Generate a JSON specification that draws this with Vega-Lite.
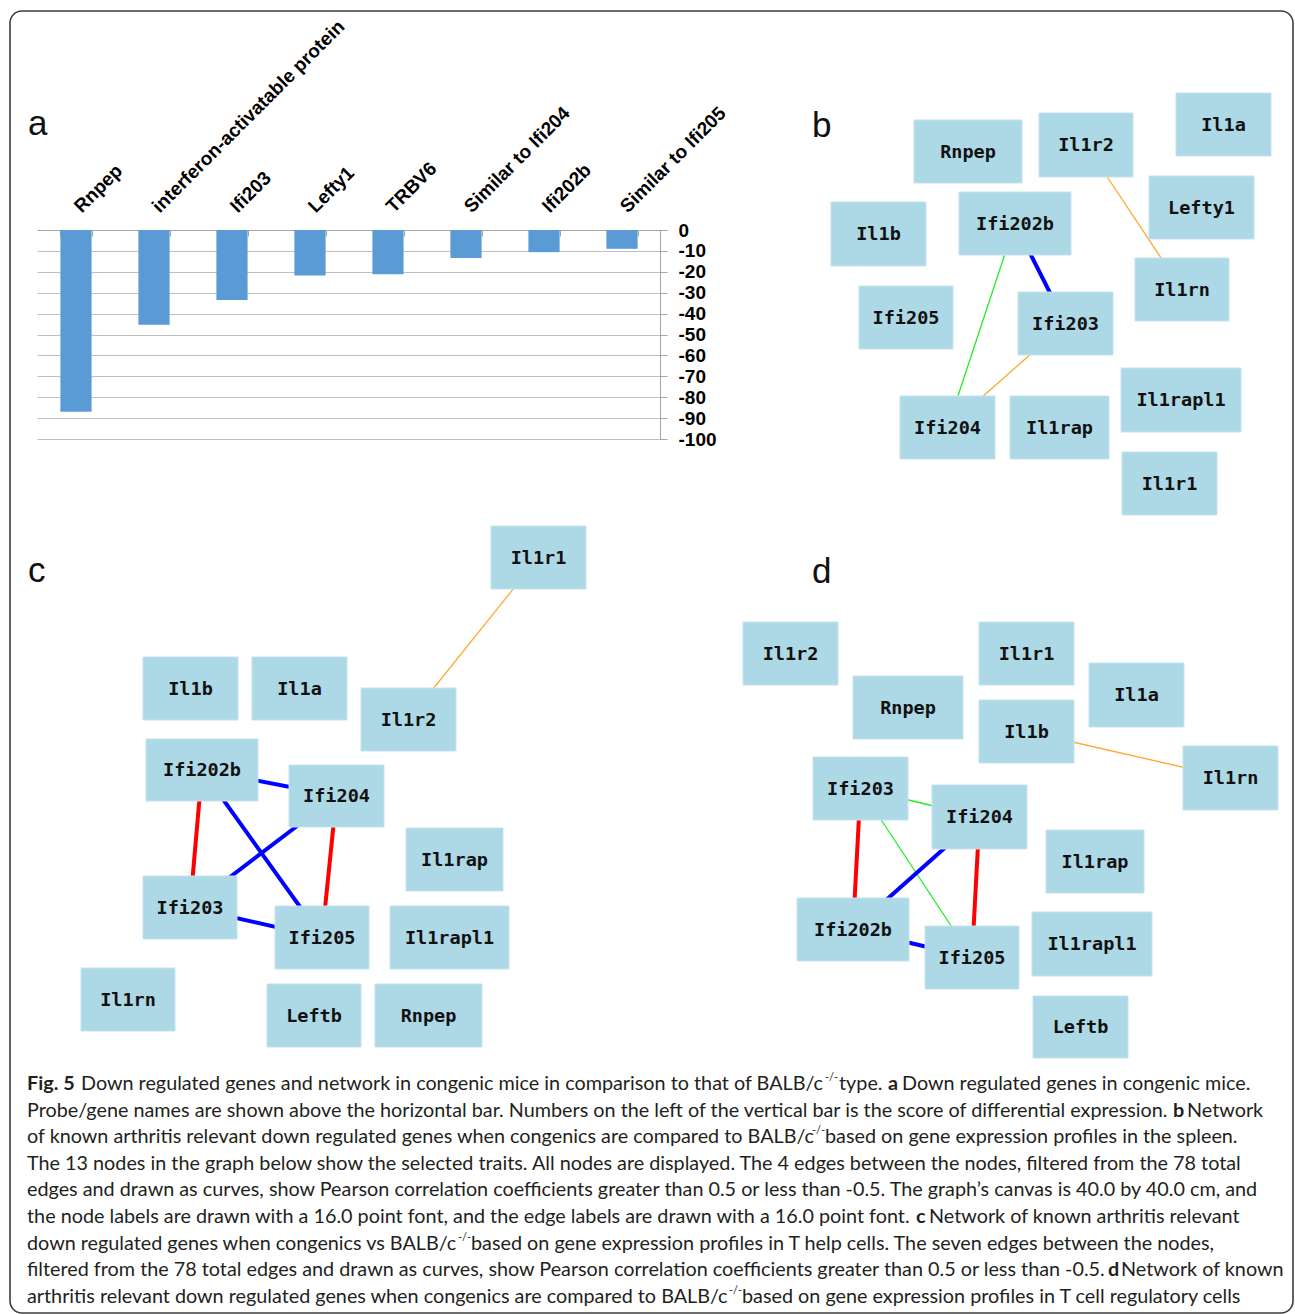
{
  "$schema": "https://vega.github.io/schema/vega-lite/v6.json",
  "width": 1295,
  "height": 1314,
  "autosize": {"type": "none"},
  "padding": 0,
  "background": "white",
  "config": {"view": {"stroke": null}},
  "datasets": {
    "bars": [
      {"gene": "Rnpep", "score": -87},
      {"gene": "interferon-activatable protein", "score": -45.3},
      {"gene": "Ifi203", "score": -33.5},
      {"gene": "Lefty1", "score": -21.8},
      {"gene": "TRBV6", "score": -21.2},
      {"gene": "Similar to Ifi204", "score": -13.4},
      {"gene": "Ifi202b", "score": -10.6},
      {"gene": "Similar to Ifi205", "score": -9}
    ],
    "nodes": [
      {"id": "b.Rnpep", "gene": "Rnpep", "x0": 914, "x1": 1022, "y0": 120, "y1": 183},
      {"id": "b.Il1r2", "gene": "Il1r2", "x0": 1039, "x1": 1133, "y0": 113, "y1": 177},
      {"id": "b.Il1a", "gene": "Il1a", "x0": 1176, "x1": 1271, "y0": 93, "y1": 156},
      {"id": "b.Il1b", "gene": "Il1b", "x0": 831, "x1": 926, "y0": 202, "y1": 266},
      {"id": "b.Ifi202b", "gene": "Ifi202b", "x0": 959, "x1": 1071, "y0": 192, "y1": 255},
      {"id": "b.Lefty1", "gene": "Lefty1", "x0": 1149, "x1": 1254, "y0": 176, "y1": 239},
      {"id": "b.Il1rn", "gene": "Il1rn", "x0": 1135, "x1": 1229, "y0": 258, "y1": 321},
      {"id": "b.Ifi205", "gene": "Ifi205", "x0": 859, "x1": 953, "y0": 286, "y1": 349},
      {"id": "b.Ifi203", "gene": "Ifi203", "x0": 1018, "x1": 1113, "y0": 292, "y1": 355},
      {"id": "b.Ifi204", "gene": "Ifi204", "x0": 900, "x1": 995, "y0": 396, "y1": 459},
      {"id": "b.Il1rap", "gene": "Il1rap", "x0": 1010, "x1": 1109, "y0": 396, "y1": 459},
      {"id": "b.Il1rapl1", "gene": "Il1rapl1", "x0": 1121, "x1": 1241, "y0": 368, "y1": 432},
      {"id": "b.Il1r1", "gene": "Il1r1", "x0": 1122, "x1": 1217, "y0": 452, "y1": 515},
      {"id": "c.Il1r1", "gene": "Il1r1", "x0": 491, "x1": 586, "y0": 526, "y1": 589},
      {"id": "c.Il1b", "gene": "Il1b", "x0": 143, "x1": 238, "y0": 657, "y1": 720},
      {"id": "c.Il1a", "gene": "Il1a", "x0": 252, "x1": 347, "y0": 657, "y1": 720},
      {"id": "c.Il1r2", "gene": "Il1r2", "x0": 361, "x1": 456, "y0": 688, "y1": 751},
      {"id": "c.Ifi202b", "gene": "Ifi202b", "x0": 146, "x1": 258, "y0": 739, "y1": 801},
      {"id": "c.Ifi204", "gene": "Ifi204", "x0": 289, "x1": 384, "y0": 765, "y1": 827},
      {"id": "c.Il1rap", "gene": "Il1rap", "x0": 406, "x1": 503, "y0": 828, "y1": 891},
      {"id": "c.Ifi203", "gene": "Ifi203", "x0": 143, "x1": 237, "y0": 876, "y1": 939},
      {"id": "c.Ifi205", "gene": "Ifi205", "x0": 275, "x1": 369, "y0": 906, "y1": 969},
      {"id": "c.Il1rapl1", "gene": "Il1rapl1", "x0": 390, "x1": 509, "y0": 906, "y1": 969},
      {"id": "c.Il1rn", "gene": "Il1rn", "x0": 81, "x1": 175, "y0": 968, "y1": 1031},
      {"id": "c.Leftb", "gene": "Leftb", "x0": 267, "x1": 361, "y0": 984, "y1": 1047},
      {"id": "c.Rnpep", "gene": "Rnpep", "x0": 375, "x1": 482, "y0": 984, "y1": 1047},
      {"id": "d.Il1r2", "gene": "Il1r2", "x0": 743, "x1": 838, "y0": 622, "y1": 685},
      {"id": "d.Il1r1", "gene": "Il1r1", "x0": 979, "x1": 1074, "y0": 622, "y1": 685},
      {"id": "d.Il1a", "gene": "Il1a", "x0": 1089, "x1": 1184, "y0": 663, "y1": 727},
      {"id": "d.Rnpep", "gene": "Rnpep", "x0": 853, "x1": 963, "y0": 676, "y1": 739},
      {"id": "d.Il1b", "gene": "Il1b", "x0": 979, "x1": 1074, "y0": 700, "y1": 763},
      {"id": "d.Il1rn", "gene": "Il1rn", "x0": 1183, "x1": 1278, "y0": 746, "y1": 810},
      {"id": "d.Ifi203", "gene": "Ifi203", "x0": 813, "x1": 908, "y0": 757, "y1": 820},
      {"id": "d.Ifi204", "gene": "Ifi204", "x0": 932, "x1": 1027, "y0": 785, "y1": 849},
      {"id": "d.Il1rap", "gene": "Il1rap", "x0": 1046, "x1": 1144, "y0": 830, "y1": 893},
      {"id": "d.Ifi202b", "gene": "Ifi202b", "x0": 797, "x1": 909, "y0": 898, "y1": 961},
      {"id": "d.Ifi205", "gene": "Ifi205", "x0": 925, "x1": 1019, "y0": 926, "y1": 989},
      {"id": "d.Il1rapl1", "gene": "Il1rapl1", "x0": 1032, "x1": 1152, "y0": 912, "y1": 976},
      {"id": "d.Leftb", "gene": "Leftb", "x0": 1033, "x1": 1128, "y0": 996, "y1": 1058}
    ],
    "edges": [
      {"source": "b.Ifi202b", "target": "b.Ifi203", "corr": "strong negative"},
      {"source": "b.Ifi202b", "target": "b.Ifi204", "corr": "negative"},
      {"source": "b.Il1r2", "target": "b.Il1rn", "corr": "positive"},
      {"source": "b.Ifi203", "target": "b.Ifi204", "corr": "positive"},
      {"source": "c.Il1r1", "target": "c.Il1r2", "corr": "positive"},
      {"source": "c.Ifi202b", "target": "c.Ifi204", "corr": "strong negative"},
      {"source": "c.Ifi202b", "target": "c.Ifi203", "corr": "strong positive"},
      {"source": "c.Ifi202b", "target": "c.Ifi205", "corr": "strong negative"},
      {"source": "c.Ifi204", "target": "c.Ifi203", "corr": "strong negative"},
      {"source": "c.Ifi204", "target": "c.Ifi205", "corr": "strong positive"},
      {"source": "c.Ifi203", "target": "c.Ifi205", "corr": "strong negative"},
      {"source": "d.Il1b", "target": "d.Il1rn", "corr": "positive"},
      {"source": "d.Ifi203", "target": "d.Ifi204", "corr": "negative"},
      {"source": "d.Ifi203", "target": "d.Ifi205", "corr": "negative"},
      {"source": "d.Ifi203", "target": "d.Ifi202b", "corr": "strong positive"},
      {"source": "d.Ifi204", "target": "d.Ifi202b", "corr": "strong negative"},
      {"source": "d.Ifi204", "target": "d.Ifi205", "corr": "strong positive"},
      {"source": "d.Ifi202b", "target": "d.Ifi205", "corr": "strong negative"}
    ],
    "letters": [
      {"letter": "a", "x": 28, "y": 135},
      {"letter": "b", "x": 812, "y": 137},
      {"letter": "c", "x": 28, "y": 582},
      {"letter": "d", "x": 812, "y": 583}
    ],
    "captionRegular": [
      {"x": 81, "y": 1090, "text": "Down regulated genes and network in congenic mice in comparison to that of BALB/c"},
      {"x": 839, "y": 1090, "text": "type."},
      {"x": 902, "y": 1090, "text": "Down regulated genes in congenic mice."},
      {"x": 27, "y": 1116.6, "text": "Probe/gene names are shown above the horizontal bar. Numbers on the left of the vertical bar is the score of differential expression."},
      {"x": 1187, "y": 1116.6, "text": "Network"},
      {"x": 27, "y": 1143.2, "text": "of known arthritis relevant down regulated genes when congenics are compared to BALB/c"},
      {"x": 825, "y": 1143.2, "text": "based on gene expression profiles in the spleen."},
      {"x": 27, "y": 1169.8, "text": "The 13 nodes in the graph below show the selected traits. All nodes are displayed. The 4 edges between the nodes, filtered from the 78 total"},
      {"x": 27, "y": 1196.4, "text": "edges and drawn as curves, show Pearson correlation coefficients greater than 0.5 or less than -0.5. The graph’s canvas is 40.0 by 40.0 cm, and"},
      {"x": 27, "y": 1223, "text": "the node labels are drawn with a 16.0 point font, and the edge labels are drawn with a 16.0 point font."},
      {"x": 929, "y": 1223, "text": "Network of known arthritis relevant"},
      {"x": 27, "y": 1249.6, "text": "down regulated genes when congenics vs BALB/c"},
      {"x": 471, "y": 1249.6, "text": "based on gene expression profiles in T help cells. The seven edges between the nodes,"},
      {"x": 27, "y": 1276.2, "text": "filtered from the 78 total edges and drawn as curves, show Pearson correlation coefficients greater than 0.5 or less than -0.5."},
      {"x": 1121, "y": 1276.2, "text": "Network of known"},
      {"x": 27, "y": 1302.8, "text": "arthritis relevant down regulated genes when congenics are compared to BALB/c"},
      {"x": 742, "y": 1302.8, "text": "based on gene expression profiles in T cell regulatory cells"}
    ],
    "captionBold": [
      {"x": 27, "y": 1090, "text": "Fig. 5"},
      {"x": 888, "y": 1090, "text": "a"},
      {"x": 1173, "y": 1116.6, "text": "b"},
      {"x": 916, "y": 1223, "text": "c"},
      {"x": 1108, "y": 1276.2, "text": "d"}
    ],
    "captionSup": [
      {"x": 825, "y": 1090, "text": "-/-"},
      {"x": 812, "y": 1143.2, "text": "-/-"},
      {"x": 458, "y": 1249.6, "text": "-/-"},
      {"x": 729, "y": 1302.8, "text": "-/-"}
    ]
  },
  "resolve": {
    "scale": {"x": "independent", "y": "independent"},
    "axis": {"x": "independent", "y": "independent"}
  },
  "layer": [
    {
      "layer": [
        {
          "data": {"values": [{}]},
          "mark": {"type": "rect", "fill": null, "stroke": "#3c3c3c", "strokeWidth": 1.6, "cornerRadius": 12},
          "encoding": {
            "x": {"datum": 10, "type": "quantitative", "scale": {"domain": [0, 1295], "nice": false, "zero": false}, "axis": null},
            "x2": {"datum": 1293},
            "y": {"datum": 11, "type": "quantitative", "scale": {"domain": [0, 1314], "reverse": true, "nice": false, "zero": false}, "axis": null},
            "y2": {"datum": 1313}
          }
        },
        {
          "data": {"name": "edges"},
          "transform": [
            {"filter": "datum.corr == 'positive' || datum.corr == 'negative'"},
            {"lookup": "source", "from": {"data": {"name": "nodes"}, "key": "id", "fields": ["x0", "x1", "y0", "y1"]}, "as": ["sx0", "sx1", "sy0", "sy1"]},
            {"lookup": "target", "from": {"data": {"name": "nodes"}, "key": "id", "fields": ["x0", "x1", "y0", "y1"]}, "as": ["tx0", "tx1", "ty0", "ty1"]},
            {"calculate": "(datum.sx0 + datum.sx1) / 2", "as": "sx"},
            {"calculate": "(datum.sy0 + datum.sy1) / 2", "as": "sy"},
            {"calculate": "(datum.tx0 + datum.tx1) / 2", "as": "tx"},
            {"calculate": "(datum.ty0 + datum.ty1) / 2", "as": "ty"}
          ],
          "mark": {"type": "rule", "strokeWidth": 1.3},
          "encoding": {
            "x": {"field": "sx", "type": "quantitative", "scale": {"domain": [0, 1295], "nice": false, "zero": false}, "axis": null},
            "x2": {"field": "tx"},
            "y": {"field": "sy", "type": "quantitative", "scale": {"domain": [0, 1314], "reverse": true, "nice": false, "zero": false}, "axis": null},
            "y2": {"field": "ty"},
            "color": {"field": "corr", "type": "nominal", "scale": {"domain": ["strong positive", "positive", "negative", "strong negative"], "range": ["#ff0000", "#ffa733", "#22ee22", "#0000ff"]}, "legend": null}
          }
        },
        {
          "data": {"name": "edges"},
          "transform": [
            {"filter": "datum.corr == 'strong positive' || datum.corr == 'strong negative'"},
            {"lookup": "source", "from": {"data": {"name": "nodes"}, "key": "id", "fields": ["x0", "x1", "y0", "y1"]}, "as": ["sx0", "sx1", "sy0", "sy1"]},
            {"lookup": "target", "from": {"data": {"name": "nodes"}, "key": "id", "fields": ["x0", "x1", "y0", "y1"]}, "as": ["tx0", "tx1", "ty0", "ty1"]},
            {"calculate": "(datum.sx0 + datum.sx1) / 2", "as": "sx"},
            {"calculate": "(datum.sy0 + datum.sy1) / 2", "as": "sy"},
            {"calculate": "(datum.tx0 + datum.tx1) / 2", "as": "tx"},
            {"calculate": "(datum.ty0 + datum.ty1) / 2", "as": "ty"}
          ],
          "mark": {"type": "rule", "strokeWidth": 4},
          "encoding": {
            "x": {"field": "sx", "type": "quantitative", "scale": {"domain": [0, 1295], "nice": false, "zero": false}, "axis": null},
            "x2": {"field": "tx"},
            "y": {"field": "sy", "type": "quantitative", "scale": {"domain": [0, 1314], "reverse": true, "nice": false, "zero": false}, "axis": null},
            "y2": {"field": "ty"},
            "color": {"field": "corr", "type": "nominal", "scale": {"domain": ["strong positive", "positive", "negative", "strong negative"], "range": ["#ff0000", "#ffa733", "#22ee22", "#0000ff"]}, "legend": null}
          }
        },
        {
          "data": {"name": "nodes"},
          "mark": {"type": "rect", "fill": "#add8e6", "stroke": "#c4e3ee", "strokeWidth": 1},
          "encoding": {
            "x": {"field": "x0", "type": "quantitative", "scale": {"domain": [0, 1295], "nice": false, "zero": false}, "axis": null},
            "x2": {"field": "x1"},
            "y": {"field": "y0", "type": "quantitative", "scale": {"domain": [0, 1314], "reverse": true, "nice": false, "zero": false}, "axis": null},
            "y2": {"field": "y1"}
          }
        },
        {
          "data": {"name": "nodes"},
          "transform": [
            {"calculate": "(datum.x0 + datum.x1) / 2", "as": "cx"},
            {"calculate": "(datum.y0 + datum.y1) / 2", "as": "cy"}
          ],
          "mark": {"type": "text", "font": "DejaVu Sans Mono", "fontWeight": "bold", "fontSize": 18.5, "color": "#111111", "align": "center", "baseline": "middle"},
          "encoding": {
            "x": {"field": "cx", "type": "quantitative", "scale": {"domain": [0, 1295], "nice": false, "zero": false}, "axis": null},
            "y": {"field": "cy", "type": "quantitative", "scale": {"domain": [0, 1314], "reverse": true, "nice": false, "zero": false}, "axis": null},
            "text": {"field": "gene"}
          }
        },
        {
          "data": {"name": "letters"},
          "mark": {"type": "text", "font": "Liberation Sans", "fontSize": 35, "color": "#111111", "align": "left", "baseline": "alphabetic"},
          "encoding": {
            "x": {"field": "x", "type": "quantitative", "scale": {"domain": [0, 1295], "nice": false, "zero": false}, "axis": null},
            "y": {"field": "y", "type": "quantitative", "scale": {"domain": [0, 1314], "reverse": true, "nice": false, "zero": false}, "axis": null},
            "text": {"field": "letter"}
          }
        },
        {
          "data": {"name": "captionRegular"},
          "mark": {"type": "text", "font": "Lato", "fontSize": 19.8, "color": "#231f20", "align": "left", "baseline": "alphabetic"},
          "encoding": {
            "x": {"field": "x", "type": "quantitative", "scale": {"domain": [0, 1295], "nice": false, "zero": false}, "axis": null},
            "y": {"field": "y", "type": "quantitative", "scale": {"domain": [0, 1314], "reverse": true, "nice": false, "zero": false}, "axis": null},
            "text": {"field": "text"}
          }
        },
        {
          "data": {"name": "captionBold"},
          "mark": {"type": "text", "font": "Lato", "fontSize": 19.8, "fontWeight": "bold", "color": "#231f20", "align": "left", "baseline": "alphabetic"},
          "encoding": {
            "x": {"field": "x", "type": "quantitative", "scale": {"domain": [0, 1295], "nice": false, "zero": false}, "axis": null},
            "y": {"field": "y", "type": "quantitative", "scale": {"domain": [0, 1314], "reverse": true, "nice": false, "zero": false}, "axis": null},
            "text": {"field": "text"}
          }
        },
        {
          "data": {"name": "captionSup"},
          "mark": {"type": "text", "font": "Lato", "fontSize": 11, "color": "#231f20", "align": "left", "baseline": "alphabetic", "dy": -9},
          "encoding": {
            "x": {"field": "x", "type": "quantitative", "scale": {"domain": [0, 1295], "nice": false, "zero": false}, "axis": null},
            "y": {"field": "y", "type": "quantitative", "scale": {"domain": [0, 1314], "reverse": true, "nice": false, "zero": false}, "axis": null},
            "text": {"field": "text"}
          }
        }
      ]
    },
    {
      "data": {"name": "bars"},
      "mark": {"type": "bar", "color": "#5b9bd5"},
      "encoding": {
        "x": {
          "field": "gene", "type": "nominal", "sort": null,
          "scale": {"range": [37, 661], "paddingInner": 0.6, "paddingOuter": 0.3},
          "axis": {
            "orient": "top", "offset": -230, "title": null,
            "labelAngle": -45, "labelAlign": "left", "labelBaseline": "middle",
            "labelFont": "Liberation Sans", "labelFontWeight": "bold", "labelFontSize": 19, "labelColor": "#000000",
            "labelLimit": 600, "labelPadding": 27, "labelOffset": 1, "labelOverlap": false, "labelFlush": false,
            "tickBand": "extent", "tickSize": -6, "tickColor": "#a6a6a6", "domainColor": "#a6a6a6", "grid": false
          }
        },
        "y": {
          "field": "score", "type": "quantitative",
          "scale": {"domain": [-100, 0], "range": [439, 230], "nice": false, "zero": false},
          "axis": {
            "orient": "left", "offset": -660, "title": null,
            "values": [0, -10, -20, -30, -40, -50, -60, -70, -80, -90, -100],
            "labelExpr": "datum.value < 0 ? '-' + abs(datum.value) : '' + datum.value",
            "grid": true, "gridColor": "#bfbfbf", "gridWidth": 1,
            "domainColor": "#a6a6a6", "tickColor": "#a6a6a6", "tickSize": -7,
            "labelPadding": -11, "labelAlign": "left",
            "labelFont": "Liberation Sans", "labelFontWeight": "bold", "labelFontSize": 19, "labelColor": "#000000"
          }
        }
      }
    }
  ]
}
